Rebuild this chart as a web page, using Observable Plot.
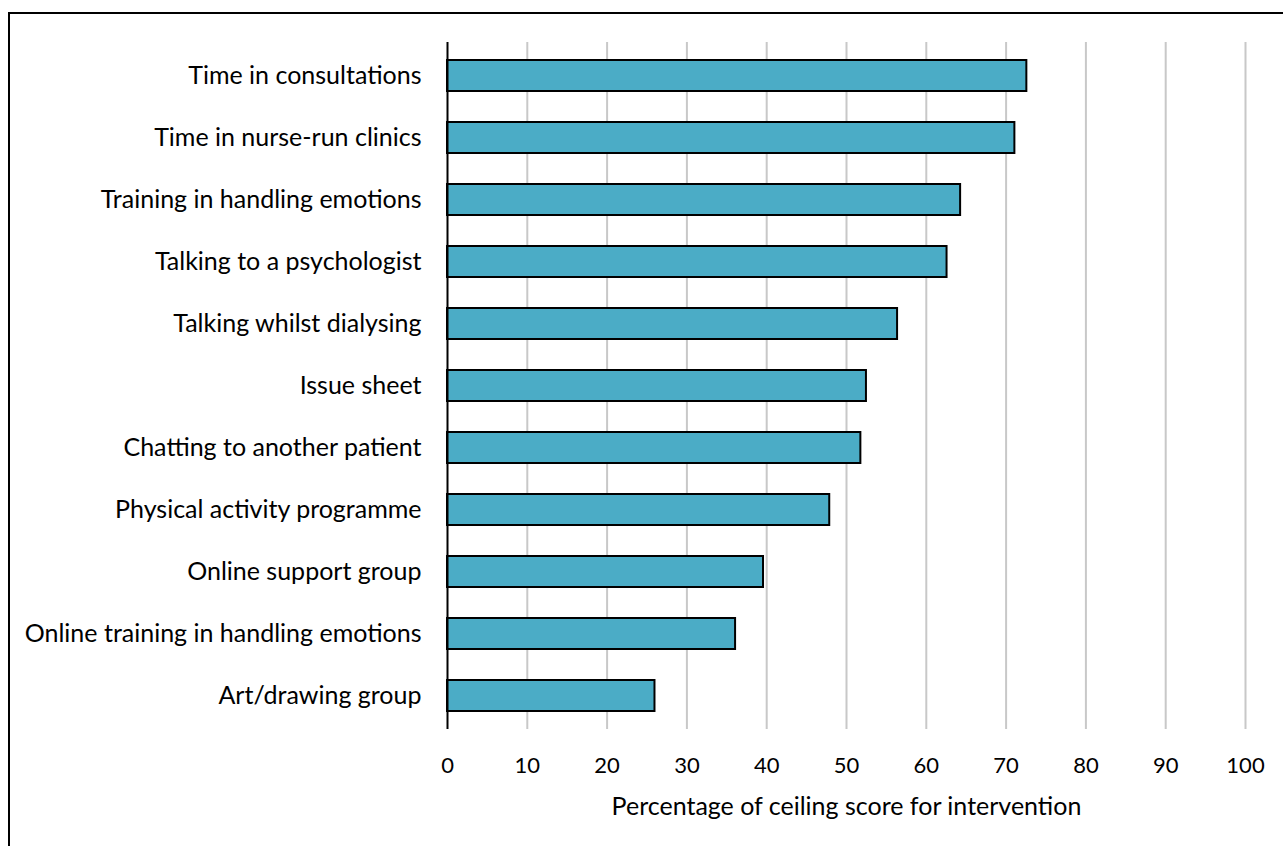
<!DOCTYPE html>
<html>
<head>
<meta charset="utf-8">
<script src="https://cdn.jsdelivr.net/npm/d3@7"></script>
<script src="https://cdn.jsdelivr.net/npm/@observablehq/plot@0.6"></script>
<style>
  html, body { margin: 0; padding: 0; background: #fff; overflow: hidden; width: 1283px; height: 846px; }
  #frame { position: absolute; left: 8px; top: 12px; width: 1400px; height: 1000px; border: 2px solid #000; box-sizing: border-box; }
  #chart { position: absolute; left: 0; top: 0; }
  #chart svg { font-family: Lato, sans-serif; }
</style>
</head>
<body>
<div id="frame"></div>
<div id="chart"></div>
<script>
const categories = [
  "Time in consultations",
  "Time in nurse-run clinics",
  "Training in handling emotions",
  "Talking to a psychologist",
  "Talking whilst dialysing",
  "Issue sheet",
  "Chatting to another patient",
  "Physical activity programme",
  "Online support group",
  "Online training in handling emotions",
  "Art/drawing group"
];
const values = [72.6, 71.1, 64.3, 62.6, 56.4, 52.5, 51.8, 47.9, 39.6, 36.1, 26.0];
const xTicks = [0, 10, 20, 30, 40, 50, 60, 70, 80, 90, 100];
const xLabel = "Percentage of ceiling score for intervention";

const data = categories.map((c, i) => ({category: c, value: values[i]}));

const chart = Plot.plot({
  width: 1283,
  height: 846,
  marginLeft: 447,
  marginRight: 38,
  marginTop: 42,
  marginBottom: 117,
  style: {fontSize: "20px", fontFamily: "Lato, sans-serif", color: "#000", background: "transparent"},
  x: {domain: [0, 100], ticks: xTicks, label: null},
  y: {domain: categories, paddingInner: 0.5, paddingOuter: 0.25, label: null},
  marks: [
    Plot.ruleX(xTicks.filter(d => d > 0), {stroke: "#c8c8c8", strokeWidth: 2}),
    Plot.barX(data, {y: "category", x: "value", fill: "#4BACC6", stroke: "#000", strokeWidth: 2}),
    Plot.ruleX([0], {stroke: "#000", strokeWidth: 2}),
    Plot.axisY({tickSize: 0, tickPadding: 26, label: null, fontSize: 25}),
    Plot.axisX({ticks: xTicks, tickSize: 0, tickPadding: 28, label: null, fontSize: 22}),
    Plot.text([xLabel], {frameAnchor: "bottom", dy: 85, fontSize: 25, fill: "#000"})
  ]
});
document.getElementById("chart").appendChild(chart);
</script>
</body>
</html>
